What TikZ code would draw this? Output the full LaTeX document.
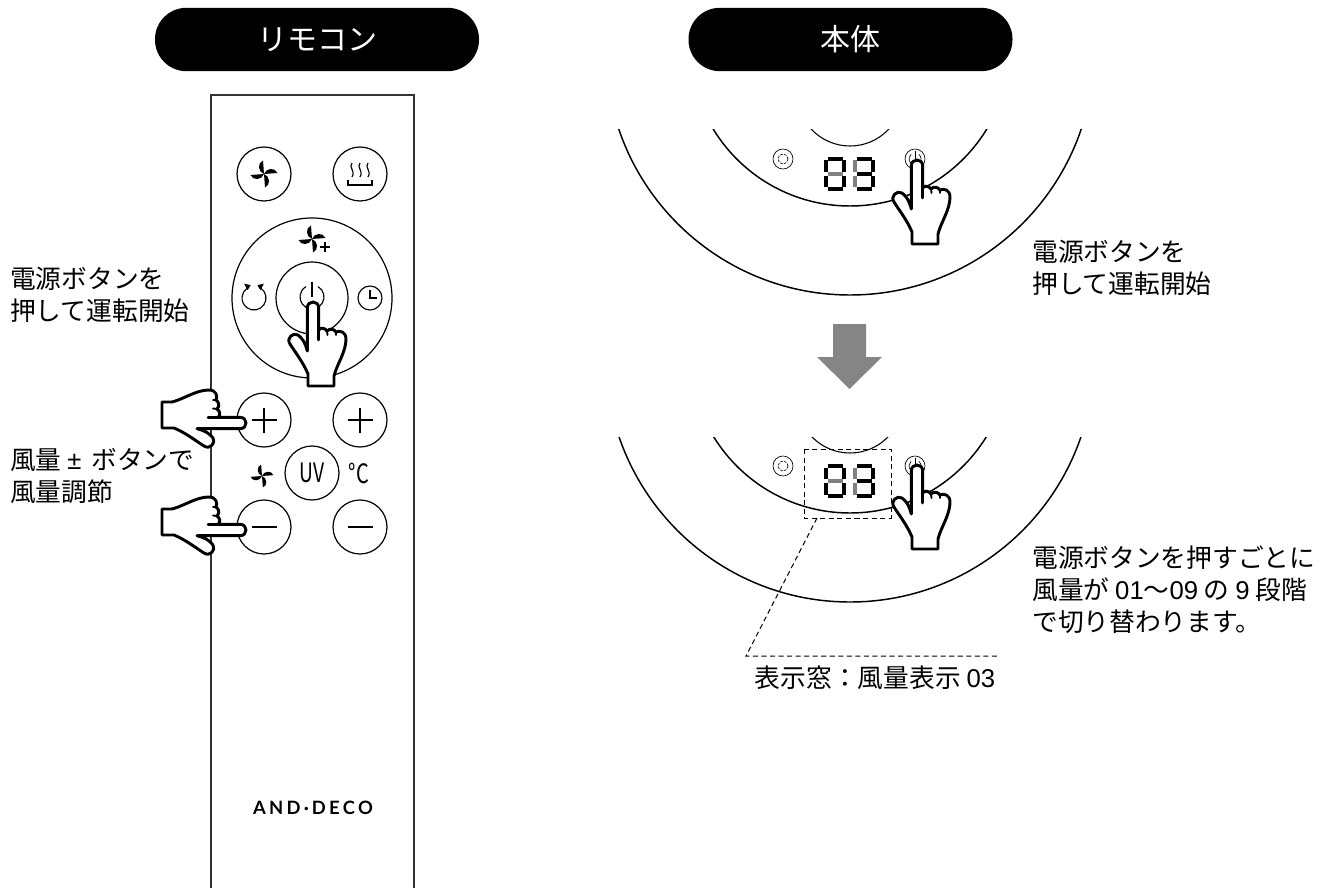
\documentclass[tikz,border=0pt]{standalone}
\usepackage{fontspec}
\setmainfont{Noto Sans CJK JP}
\newfontfamily\decofont[LetterSpace=18]{Lato}
\newfontfamily\digitfont{Liberation Sans}
\usepackage{graphicx}
\tikzset{
	x=0.75pt,y=-0.75pt,
	pill/.style={fill=black,text=white,rounded corners=23.5pt,minimum width=243pt,minimum height=47.5pt,inner sep=0pt,font=\fontsize{22.5pt}{26pt}\selectfont},
	btn/.style={draw,circle,minimum size=40.5pt,inner sep=0pt,line width=0.9pt,fill=white},
	label/.style={anchor=west,align=left,inner sep=0pt,font=\fontsize{19.3pt}{24pt}\selectfont},
	handline/.style={fill=white,line width=2.2pt,line join=round,line cap=round},
	iconline/.style={line width=0.85pt},
	markline/.style={line width=1.3pt},
	dashline/.style={line width=0.75pt,dash pattern=on 3.8pt off 2.6pt},
	sidehand/.style={cm={0,1,1,0,(0,0)}},
	handpic/.pic={
		\draw[handline] (-5.7,49) -- (-5.7,6) .. controls (-5.7,-2) and (5.7,-2) .. (5.7,6) -- (5.7,28) .. controls (8,25) and (12,26) .. (14,29) .. controls (17,26) and (21,27) .. (23,30) .. controls (27,28) and (33,30) .. (33,37) .. controls (33,50) and (24,62) .. (21,74) -- (21,84) -- (-5,84) -- (-5,72) .. controls (-10,60) and (-18,50) .. (-23,42) .. controls (-27,36) and (-20,30) .. (-15,33) .. controls (-11,36) and (-8,40) .. (-5.7,49) -- cycle;
		\draw[line width=2.2pt,line cap=round] (5.7,28) -- (5.7,38);
		\draw[line width=1.4pt,line cap=round] (14,29) -- (14.5,33);
		\draw[line width=1.4pt,line cap=round] (23,30) -- (23,33);
	},
	fanpic/.pic={
		\foreach \a in {0,90,180,270}
		\fill[rotate=\a] (0,0) .. controls (2,-6) and (11,-7) .. (13.5,-1) -- cycle;
	},
	powerpic/.pic={
		\draw[iconline] (-60:12) arc (-60:240:12);
		\draw[iconline] (0,-15) -- (0,0);
	},
	turnpic/.pic={
		\draw[iconline] (-55:12) arc (-55:235:12);
		\fill (-55:12) ++(3,-4.5) -- ++(-6.5,1.5) -- ++(3,5) -- cycle;
		\fill (235:12) ++(-3,-4.5) -- ++(6.5,1.5) -- ++(-3,5) -- cycle;
	},
	clockpic/.pic={
		\draw[iconline] (0,0) circle (12);
		\draw[iconline] (0,-8) -- (0,0) -- (6.5,0);
	},
	heatpic/.pic={
		\foreach \x in {-8,0,8}
		\draw[iconline] (\x,-11) .. controls (\x-4,-7) and (\x+4,-3) .. (\x,3);
		\draw[iconline] (-12,6) -- (-12,11) -- (12,11) -- (12,6);
	},
	pics/digitpic/.style 2 args={code={
		\foreach \xa/\ya/\xb/\yb in {3.5/2/18.5/2,3.5/32/18.5/32,20/3.5/20/15,20/19/20/30.5}
		\draw[line width=3.2pt] (\xa,\ya) -- (\xb,\yb);
		\draw[line width=3.2pt,#1] (3.5,17) -- (18.5,17);
		\draw[line width=3.2pt,#2] (2,3.5) -- (2,15);
		\draw[line width=3.2pt,#2] (2,19) -- (2,30.5);
	}},
	panelpic/.pic={
		\begin{scope}
			\clip (-240,0) rectangle (240,190);
			\draw[line width=1.1pt] (0,-79) circle (244);
			\draw[line width=1.1pt] (0,-84) circle (160);
			\draw[line width=0.8pt] (0,-37) circle (53);
		\end{scope}
		\draw[line width=0.5pt] (-67,29) circle (10);
		\draw[line width=0.5pt,dash pattern=on 2pt off 1pt] (-67,29) circle (5);
		\draw[line width=0.5pt] (65,29) circle (10);
		\draw[line width=0.5pt] (65,29) ++(-50:6) arc (-50:230:6);
		\draw[line width=0.5pt] (65,29) -- ++(0,-8);
		\pic at (-26,27) {digitpic={black!50}{black}};
		\pic at (3,27) {digitpic={black}{black!50}};
	},
}
\begin{document}
\begin{tikzpicture}
	\useasboundingbox (0,0) rectangle (1325,888);
	\node[pill] (remotehead) at (317,39.5) {リモコン};
	\node[pill] (bodyhead) at (850.5,39.5) {本体};
	\draw[line width=0.9pt,black!80] (211,888) -- (211,95) -- (414,95) -- (414,888);
	\node[btn] (fanbtn) at (264,174) {};
	\node[btn] (heatbtn) at (360,174) {};
	\node[btn,minimum size=120pt] (ringbtn) at (312,298) {};
	\node[btn,minimum size=54pt] (powerbtn) at (312,298) {};
	\node[btn] (plusa) at (264,420) {};
	\node[btn] (plusb) at (360,420) {};
	\node[btn] (minusa) at (264,527) {};
	\node[btn] (minusb) at (360,527) {};
	\node[btn,font=\fontsize{20pt}{24pt}\selectfont] (uvbtn) at (312,473) {\scalebox{.72}[1]{UV}};
	\node[inner sep=0pt,font=\fontsize{20pt}{24pt}\selectfont] (degree) at (359,473) {\scalebox{.75}[1]{°C}};
	\pic at (fanbtn) {fanpic};
	\pic at (heatbtn) {heatpic};
	\pic at (312,239) {fanpic};
	\draw[line width=1pt] (320,247) -- (330,247);
	\draw[line width=1pt] (325,242) -- (325,252);
	\pic at (312,297) {powerpic};
	\pic at (254,298) {turnpic};
	\pic at (370,298) {clockpic};
	\pic[scale=0.85] at (262,476) {fanpic};
	\foreach \b in {plusa,plusb,minusa,minusb}
	\draw[markline] (\b) +(-12.5,0) -- +(12.5,0);
	\foreach \b in {plusa,plusb}
	\draw[markline] (\b) +(0,-12.5) -- +(0,12.5);
	\node[font=\decofont\bfseries\fontsize{13.8pt}{16pt}\selectfont,inner sep=0pt] (brand) at (313,808) {AND\,·\,DECO};
	\pic at (313,302) {handpic};
	\pic[sidehand] at (246,423) {handpic};
	\pic[sidehand] at (246,530) {handpic};
	\node[label] (powerleft) at (10,295) {電源ボタンを\\押して運転開始};
	\node[label] (windleft) at (10,476) {風量 {\digitfont ±}\hspace{3pt} ボタンで\\風量調節};
	\pic at (850,130) {panelpic};
	\pic at (917,160) {handpic};
	\node[label] (powerright) at (1032,268) {電源ボタンを\\押して運転開始};
	\fill[black!48] (833,324) -- (866,324) -- (866,357) -- (882,357) -- (849.5,389) -- (817,357) -- (833,357) -- cycle;
	\pic at (850,437) {panelpic};
	\draw[dashline] (804,449) rectangle (891,518);
	\pic at (917,465) {handpic};
	\coordinate (leaderstart) at (817,518);
	\coordinate (leaderbend) at (746,656);
	\coordinate (leaderend) at (1000,656);
	\draw[dashline] (leaderstart) -- (leaderbend) -- (leaderend);
	\node[label,anchor=center] (windview) at (875,678) {表示窓：風量表示 {\digitfont 03}};
	\node[label] (stepright) at (1032,590) {電源ボタンを押すごとに\\風量が {\digitfont 01}〜{\digitfont 09} の {\digitfont 9} 段階\\で切り替わります。};
\end{tikzpicture}
\end{document}
